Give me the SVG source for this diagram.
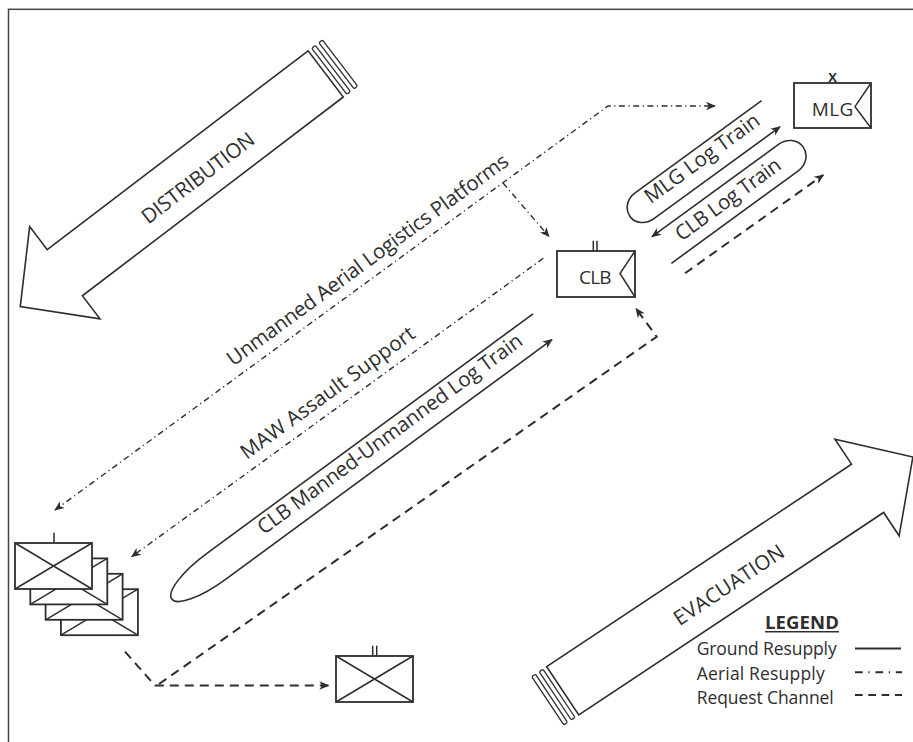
<svg xmlns="http://www.w3.org/2000/svg" width="913" height="742" viewBox="0 0 913 742">
<defs>
<marker id="arr" viewBox="0 0 10 10" refX="9" refY="5" markerWidth="10" markerHeight="10" markerUnits="userSpaceOnUse" orient="auto-start-reverse">
<path d="M0,0.8 L10,5 L0,9.2 L2.8,5 Z" fill="#2e2e2e"/>
</marker>
</defs>
<style>
.ln{fill:none;stroke:#2e2e2e;stroke-width:1.6}
.air{fill:none;stroke:#2e2e2e;stroke-width:1.4;stroke-dasharray:6 3.5 1.2 3.5}
.req{fill:none;stroke:#2e2e2e;stroke-width:2;stroke-dasharray:9 6}
.box{fill:#fff;stroke:#2e2e2e;stroke-width:1.8}
.dg{fill:none;stroke:#2e2e2e;stroke-width:1.5}
.big{fill:#fff;stroke:#2e2e2e;stroke-width:1.6;stroke-linejoin:miter}
.strip{fill:#fff;stroke:#2e2e2e;stroke-width:1.3}
text{font-family:"Open Sans","Liberation Sans",sans-serif;fill:#2e2e2e}
.t20{font-size:20.5px}
.t19{font-size:19px}
.lg{font-size:17.5px}
</style>
<rect x="0" y="0" width="913" height="742" fill="#fff"/>
<rect x="8.5" y="9.3" width="912" height="745" fill="none" stroke="#444" stroke-width="1.5"/>

<g id="distribution">
<g transform="translate(343.3,97) rotate(142.7)">
<polygon class="big" points="0,0 328,0 328,-29 384,29 328,87 328,58 0,58"/>
<rect class="strip" x="-9" y="0" width="4.5" height="58" rx="1.5"/>
<rect class="strip" x="-18" y="0" width="4.5" height="58" rx="1.5"/>
</g>
<text class="t20" transform="translate(198,178) rotate(-37.3)" y="7" text-anchor="middle" textLength="136">DISTRIBUTION</text>
</g>

<g id="evacuation">
<g transform="translate(546.7,666.7) rotate(-33.6)">
<polygon class="big" points="0,0 366,0 366,-30 421,28 366,86 366,58 0,58"/>
<rect class="strip" x="-9" y="0" width="4.5" height="58" rx="1.5"/>
<rect class="strip" x="-18" y="0" width="4.5" height="58" rx="1.5"/>
</g>
<text class="t20" transform="translate(729,585) rotate(-33.6)" y="7" text-anchor="middle" textLength="128">EVACUATION</text>
</g>

<g id="connectors">
<path class="air" d="M55,510 L608,106 L715,106" marker-start="url(#arr)" marker-end="url(#arr)"/>
<path class="air" d="M503,183 L549,236.5" marker-end="url(#arr)"/>
<path class="air" d="M543.3,258.3 L131.7,556.7" marker-end="url(#arr)"/>
<g transform="translate(542.5,326.7) rotate(-36.3)">
<path class="ln" d="M0,-16 L-405,-16 A55,16 0 0 0 -405,16 L0,16" marker-end="url(#arr)"/>
<text class="t20" x="-348" y="3" textLength="323">CLB Manned-Unmanned Log Train</text>
</g>
<g transform="translate(644.5,205.8) rotate(-36.1)">
<path class="ln" d="M156.6,-16 L0,-16 A18,16 0 0 0 0,16 L156,16" marker-end="url(#arr)"/>
<text class="t20" x="6" y="2.5" textLength="137">MLG Log Train</text>
</g>
<g transform="translate(661.7,250) rotate(-36.1)">
<path class="ln" d="M0,-16.5 L157,-16.5 A18,16.5 0 0 1 157,16.5 L0,16.5" marker-start="url(#arr)"/>
<text class="t20" x="21" y="5" textLength="125">CLB Log Train</text>
</g>
<path class="req" d="M685,273.3 L823.3,175" marker-end="url(#arr)"/>
<path class="req" d="M125,651.7 L155,685.5 L328.3,685.5" marker-end="url(#arr)"/>
<path class="req" d="M159,684 L656.7,336.7 L636,308.5" marker-end="url(#arr)"/>
<text class="t20" transform="translate(233.3,366.7) rotate(-36.2)" textLength="343">Unmanned Aerial Logistics Platforms</text>
<text class="t20" transform="translate(246.7,460) rotate(-36)" textLength="210">MAW Assault Support</text>
</g>

<g id="mlg">
<rect class="box" x="794" y="83" width="77" height="45"/>
<polyline class="dg" points="871,83 855,106.7 871,128"/>
<text class="t19" x="832.5" y="115.5" text-anchor="middle" textLength="41.5">MLG</text>
<text x="832.7" y="82.3" text-anchor="middle" font-size="13" font-weight="bold" font-family="Liberation Sans, sans-serif">X</text>
</g>

<g id="clb">
<rect class="box" x="557" y="251" width="78" height="46"/>
<polyline class="dg" points="635,251 620,273.5 635,297"/>
<text class="t19" x="595.3" y="284" text-anchor="middle" textLength="32.7">CLB</text>
<line class="dg" x1="593.3" y1="240.7" x2="593.3" y2="251"/>
<line class="dg" x1="597" y1="240.7" x2="597" y2="251"/>
</g>

<g id="infantry-stack">
<rect class="box" x="60.9" y="589.2" width="77" height="46"/>
<path class="dg" d="M60.9,589.2 L137.9,635.2 M137.9,589.2 L60.9,635.2"/>
<rect class="box" x="45.6" y="573.8" width="77" height="46"/>
<path class="dg" d="M45.6,573.8 L122.6,619.8 M122.6,573.8 L45.6,619.8"/>
<rect class="box" x="30.3" y="558.4" width="77" height="46"/>
<path class="dg" d="M30.3,558.4 L107.3,604.4 M107.3,558.4 L30.3,604.4"/>
<rect class="box" x="15" y="543" width="77" height="46"/>
<path class="dg" d="M15,543 L92,589 M92,543 L15,589"/>
<line class="dg" x1="54" y1="532.7" x2="54" y2="543"/>
</g>

<g id="company">
<rect class="box" x="336" y="656" width="77" height="46"/>
<path class="dg" d="M336,656 L413,702 M413,656 L336,702"/>
<line class="dg" x1="372.7" y1="645.7" x2="372.7" y2="656"/>
<line class="dg" x1="376.7" y1="645.7" x2="376.7" y2="656"/>
</g>

<g id="legend">
<text x="839" y="628.5" text-anchor="end" font-size="18.5" font-weight="bold" textLength="74">LEGEND</text>
<line x1="765" y1="631.8" x2="839" y2="631.8" stroke="#2e2e2e" stroke-width="1.5"/>
<text class="lg" x="696.7" y="655" textLength="140">Ground Resupply</text>
<text class="lg" x="696.7" y="679.5" textLength="128">Aerial Resupply</text>
<text class="lg" x="696.7" y="703.5" textLength="137">Request Channel</text>
<line x1="855" y1="648.5" x2="901" y2="648.5" stroke="#2e2e2e" stroke-width="2"/>
<line x1="855" y1="672.3" x2="902" y2="672.3" stroke="#2e2e2e" stroke-width="2" stroke-dasharray="7.7 5.7 1.3 5.7"/>
<line x1="855" y1="695" x2="902" y2="695" stroke="#2e2e2e" stroke-width="2" stroke-dasharray="7.7 5.6"/>
</g>
</svg>
